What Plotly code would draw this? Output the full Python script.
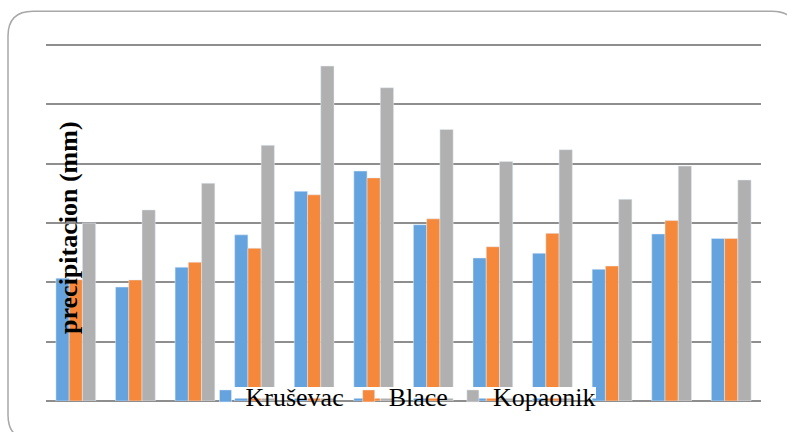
import plotly.graph_objects as go

months = ["Jan", "Feb", "Mar", "Apr", "May", "Jun", "Jul", "Aug", "Sep", "Oct", "Nov", "Dec"]
krusevac = [41.4, 38.4, 45.1, 56.0, 70.7, 77.5, 59.4, 48.2, 49.8, 44.4, 56.3, 54.8]
blace = [40.9, 40.8, 46.8, 51.5, 69.5, 75.2, 61.4, 52.0, 56.5, 45.5, 60.8, 54.8]
kopaonik = [60.0, 64.4, 73.4, 86.2, 112.9, 105.6, 91.5, 80.7, 84.7, 68.0, 79.2, 74.5]

W, H = 787, 432
ML, MR, MT, MB = 46, 26, 42, 29
PW, PH = W - ML - MR, H - MT - MB

SERIF = "Liberation Serif, Times New Roman, serif"


def px(x):
    return (x - ML) / PW


def py(y):
    return (H - MB - y) / PH


fig = go.Figure()
fig.add_trace(go.Bar(name="Kruševac", x=months, y=krusevac, marker_color="#65A3DF"))
fig.add_trace(go.Bar(name="Blace", x=months, y=blace, marker_color="#F6883B"))
fig.add_trace(go.Bar(name="Kopaonik", x=months, y=kopaonik, marker_color="#B0B0B0"))

# rounded border
x0, x1, y0, y1, r = 8, 797, 11, 442, 25
path = (
    f"M {px(x0 + r)},{py(y0)} L {px(x1 - r)},{py(y0)} "
    f"Q {px(x1)},{py(y0)} {px(x1)},{py(y0 + r)} "
    f"L {px(x1)},{py(y1 - r)} Q {px(x1)},{py(y1)} {px(x1 - r)},{py(y1)} "
    f"L {px(x0 + r)},{py(y1)} Q {px(x0)},{py(y1)} {px(x0)},{py(y1 - r)} "
    f"L {px(x0)},{py(y0 + r)} Q {px(x0)},{py(y0)} {px(x0 + r)},{py(y0)} Z"
)

fig.update_layout(
    width=W,
    height=H,
    margin=dict(l=ML, r=MR, t=MT, b=MB),
    paper_bgcolor="white",
    plot_bgcolor="white",
    bargap=0.333,
    bargroupgap=0,
    showlegend=True,
    legend=dict(
        orientation="h",
        x=px(403),
        xanchor="center",
        y=py(398),
        yanchor="middle",
        bgcolor="rgba(0,0,0,0)",
        font=dict(family=SERIF, size=26, color="black"),
        itemclick=False,
    ),
    xaxis=dict(showticklabels=False, showgrid=False, zeroline=False, showline=False, ticks=""),
    yaxis=dict(
        range=[0, 121],
        dtick=20,
        showticklabels=False,
        showgrid=True,
        gridcolor="#8E8E8E",
        gridwidth=2,
        zeroline=True,
        zerolinecolor="#8E8E8E",
        zerolinewidth=2,
        ticks="",
    ),
    shapes=[
        dict(type="path", path=path, xref="paper", yref="paper",
             line=dict(color="#A8A8A8", width=1.5), fillcolor="rgba(0,0,0,0)", layer="above"),
        dict(type="rect", xref="paper", yref="paper",
             x0=px(218), x1=px(596), y0=py(400.5), y1=py(389),
             line=dict(width=0), fillcolor="white", layer="above"),
    ],
    annotations=[
        dict(
            text="<b>precipitacion (mm)</b>",
            textangle=-90,
            xref="paper", yref="paper",
            x=px(69), y=py(229),
            xanchor="center", yanchor="middle",
            showarrow=False,
            font=dict(family=SERIF, size=26, color="black"),
        )
    ],
)

fig.write_html(
    "out.html",
    config={"displayModeBar": False},
    post_script="document.body.style.margin='0';",
)
